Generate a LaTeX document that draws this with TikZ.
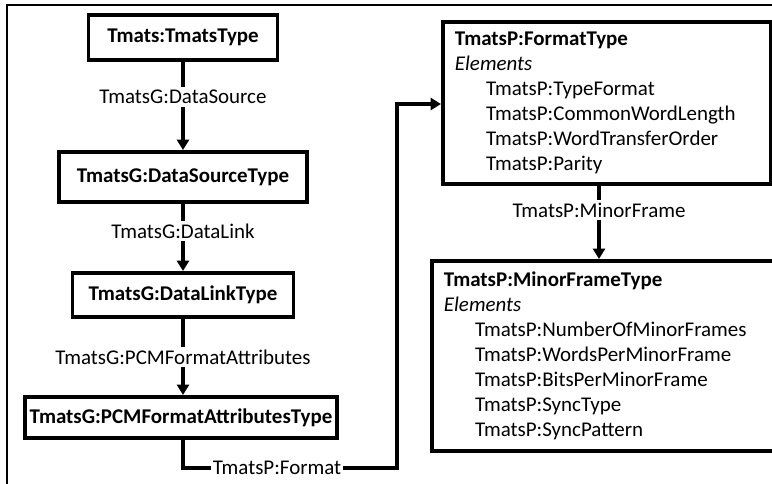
\documentclass[tikz,border=0pt]{standalone}
\usepackage{fontspec}
\setmainfont{Carlito}
\usetikzlibrary{arrows.meta}
\newcommand{\diafont}{\fontsize{14.9pt}{17.8pt}\selectfont}
\newcommand{\drawframe}{\draw[line width=1.5pt]}
\newcommand{\drawlink}{\draw[line width=2.2pt]}
\newcommand{\elem}[1]{\hspace*{0.78cm}#1}
\tikzset{
  typebox/.style={draw, line width=2.8pt, font=\diafont\bfseries, inner sep=0pt},
  elembox/.style={draw, line width=2.8pt, anchor=north west, align=left, inner xsep=0.3cm, inner ysep=0.15cm},
  linklabel/.style={inner sep=2pt},
  linkarrow/.style={line width=2.2pt, -{Triangle[length=0.26cm,width=0.3cm]}}
}

\begin{document}
\begin{tikzpicture}[x=0.025cm, y=-0.025cm, font=\diafont]
\useasboundingbox (0,0) rectangle (772,483);
\drawframe (7,495) -- (7,5) -- (790,5);
\node[typebox, minimum width=4.725cm, minimum height=1.125cm] (tmats) at (183,37.5) {Tmats:TmatsType};
\node[typebox, minimum width=6.2cm, minimum height=1.25cm] (source) at (183,177) {TmatsG:DataSourceType};
\node[typebox, minimum width=5.525cm, minimum height=1.1cm] (link) at (183,295) {TmatsG:DataLinkType};
\node[typebox, minimum width=7.8cm, minimum height=1.025cm] (pcm) at (181,417.5) {TmatsG:PCMFormatAttributesType};
\node[linklabel] (sourcelbl) at (183,97) {TmatsG:DataSource};
\node[linklabel] (linklbl) at (183,231) {TmatsG:DataLink};
\node[linklabel] (pcmlbl) at (183,357) {TmatsG:PCMFormatAttributes};
\node[linklabel, inner sep=1pt] (fmtlbl) at (277,468) {TmatsP:Format};
\node[elembox, text width=7.6cm, minimum height=4.05cm] (fmt) at (441,20) {\textbf{TmatsP:FormatType}\\\textit{Elements}\\\elem{TmatsP:TypeFormat}\\\elem{TmatsP:CommonWordLength}\\\elem{TmatsP:WordTransferOrder}\\\elem{TmatsP:Parity}};
\node[linklabel] (minorlbl) at (599,210) {TmatsP:MinorFrame};
\node[elembox, text width=9.5cm, minimum height=4.75cm] (minor) at (430,259) {\textbf{TmatsP:MinorFrameType}\\\textit{Elements}\\\elem{TmatsP:NumberOfMinorFrames}\\\elem{TmatsP:WordsPerMinorFrame}\\\elem{TmatsP:BitsPerMinorFrame}\\\elem{TmatsP:SyncType}\\\elem{TmatsP:SyncPattern}};
\coordinate (turn) at (397,104);
\drawlink (tmats.south -| sourcelbl) -- (sourcelbl.north);
\draw[linkarrow] (sourcelbl.south) -- (source.north -| sourcelbl);
\drawlink (source.south -| linklbl) -- (linklbl.north);
\draw[linkarrow] (linklbl.south) -- (link.north -| linklbl);
\drawlink (link.south -| pcmlbl) -- (pcmlbl.north);
\draw[linkarrow] (pcmlbl.south) -- (pcm.north -| pcmlbl);
\drawlink (pcm.south -| pcmlbl) |- (fmtlbl.west);
\draw[linkarrow] (fmtlbl.east) -| (turn) -- (fmt.west |- turn);
\drawlink (fmt.south -| minorlbl) -- (minorlbl.north);
\draw[linkarrow] (minorlbl.south) -- (minor.north -| minorlbl);
\end{tikzpicture}
\end{document}
